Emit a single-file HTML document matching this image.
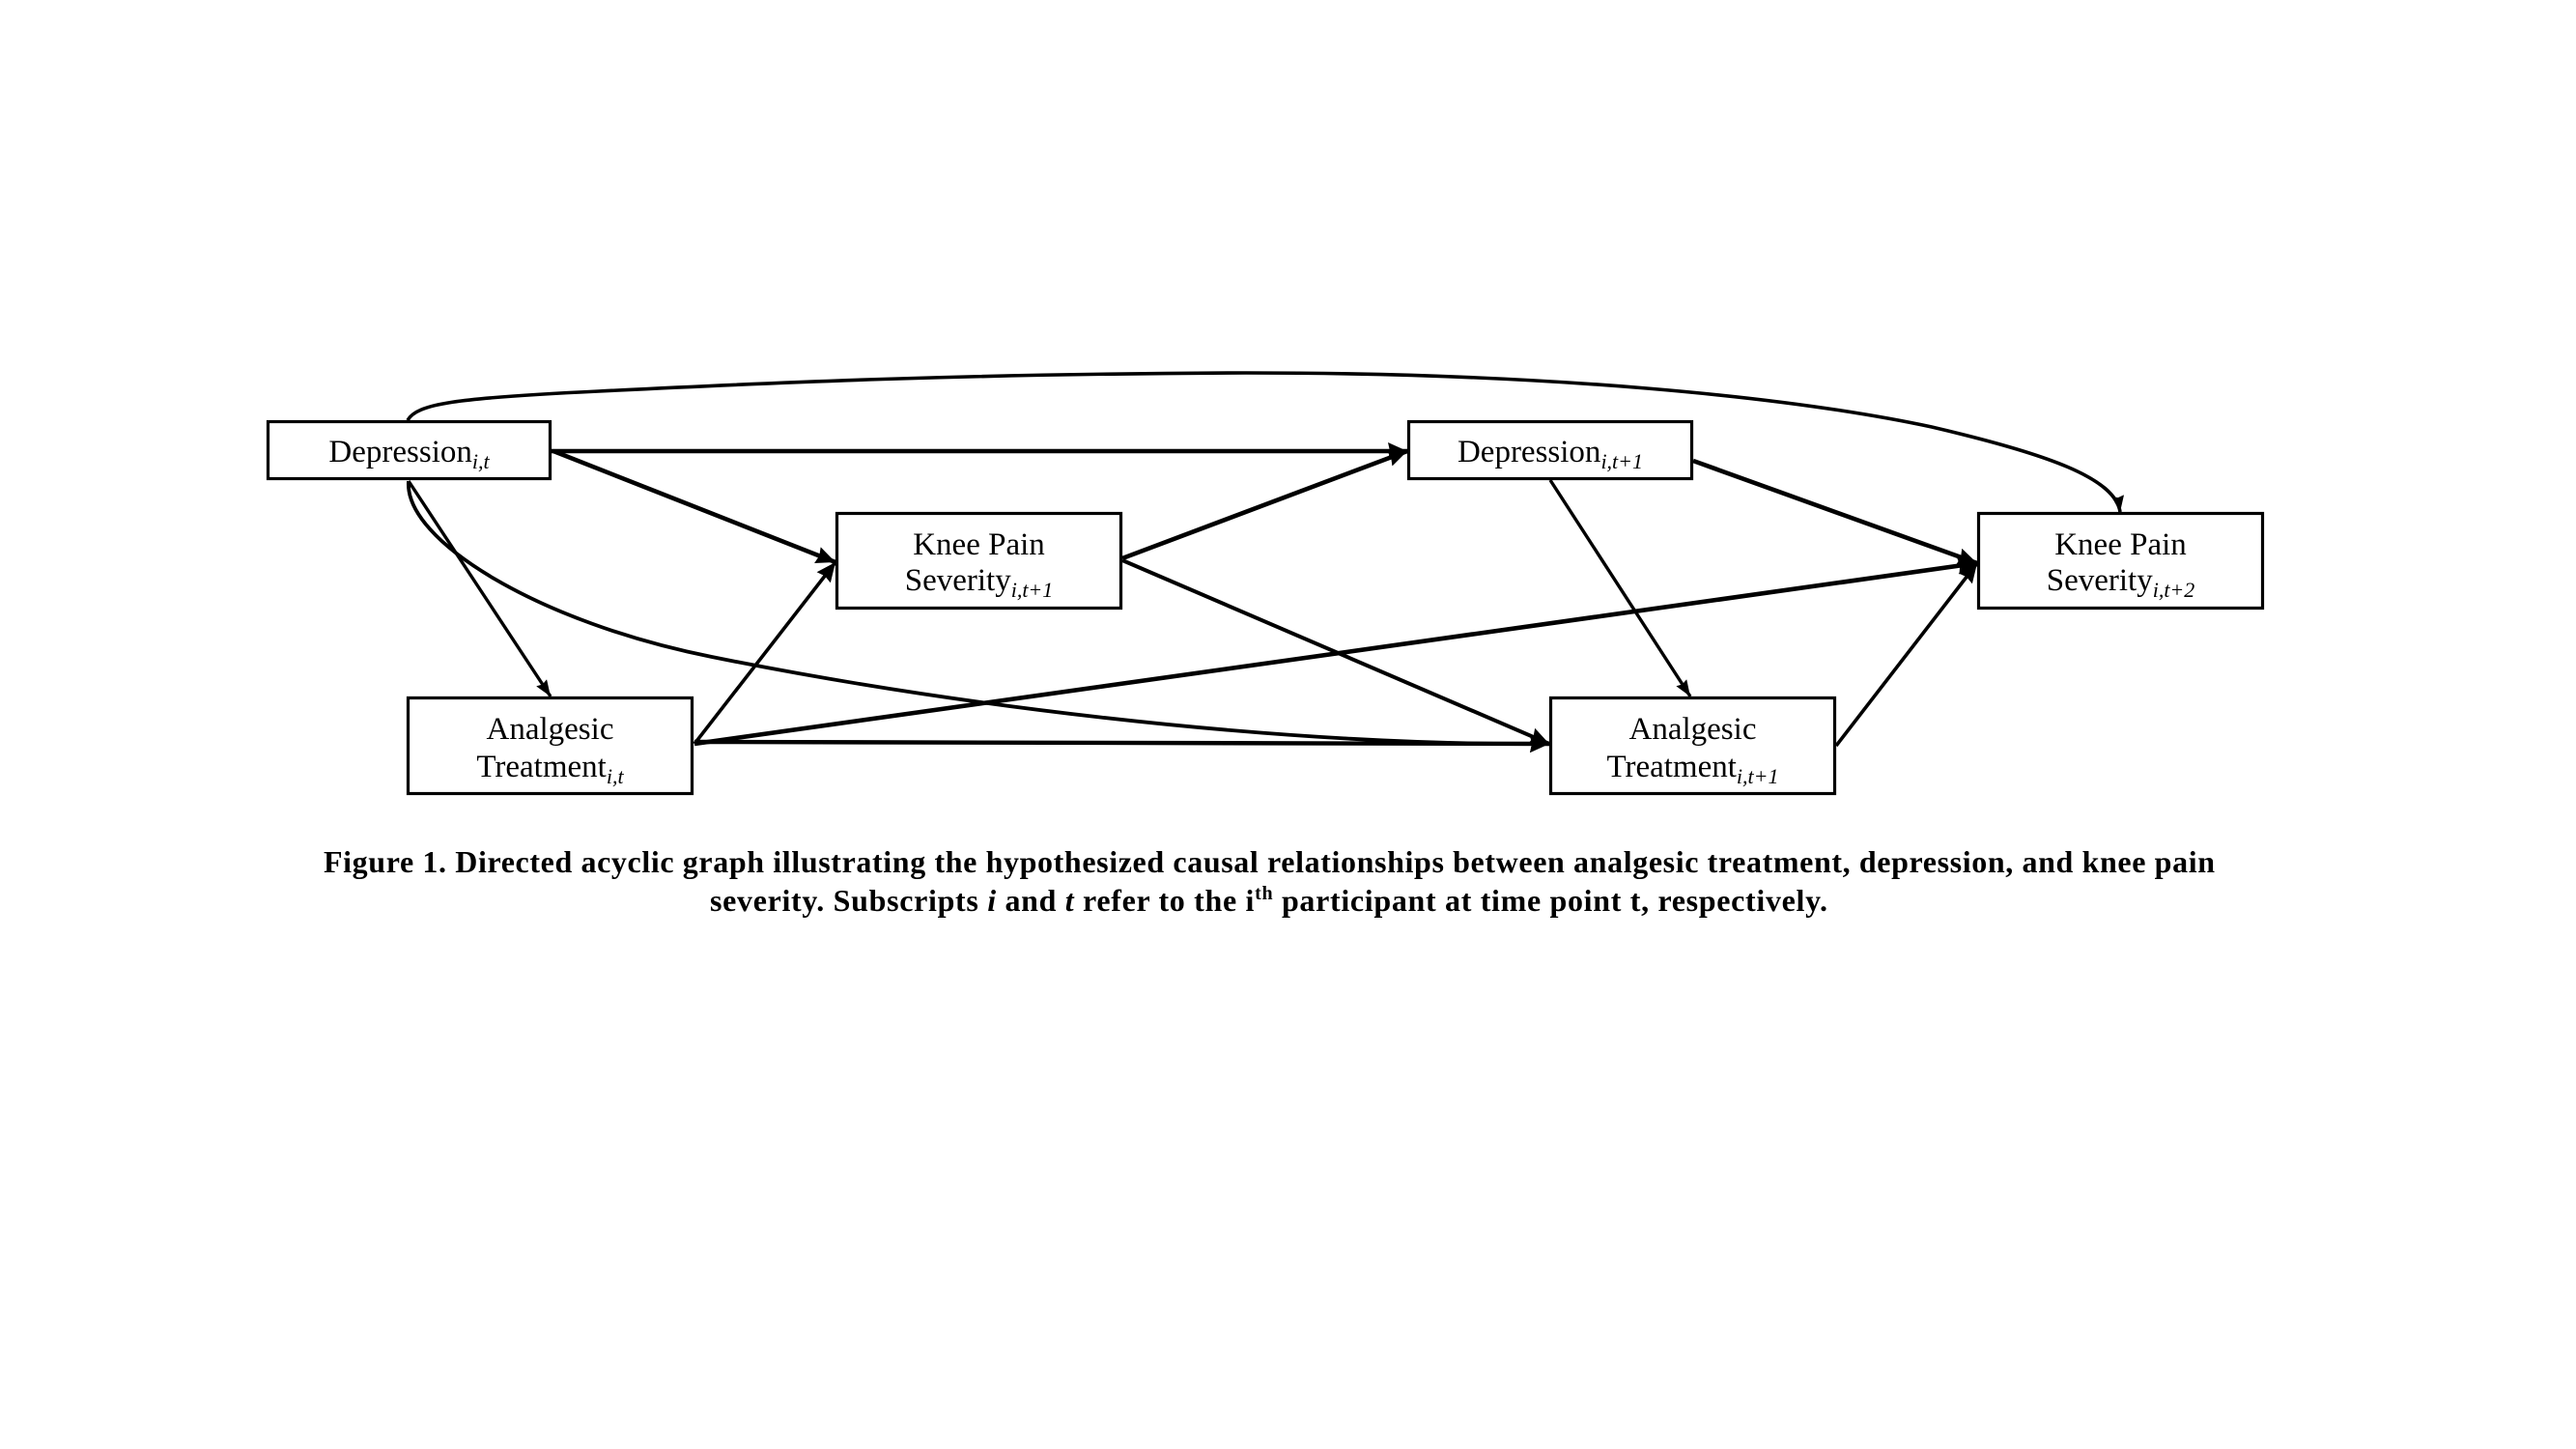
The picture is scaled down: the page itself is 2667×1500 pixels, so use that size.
<!DOCTYPE html>
<html>
<head>
<meta charset="utf-8">
<style>
  html, body { margin: 0; padding: 0; background: #ffffff; }
  body { width: 2667px; height: 1500px; overflow: hidden; }
  svg { display: block; }
  text { font-family: "Liberation Serif", "Times New Roman", serif; fill: #000; }
</style>
</head>
<body>
<svg width="2667" height="1500" viewBox="0 0 2667 1500" xmlns="http://www.w3.org/2000/svg">
  <defs>
    <marker id="big" markerUnits="userSpaceOnUse" viewBox="0 0 20 18" refX="20" refY="9" markerWidth="20" markerHeight="18" orient="auto">
      <path d="M0,0 L20,9 L0,18 L2,9 z" fill="#000"/>
    </marker>
    <marker id="small" markerUnits="userSpaceOnUse" viewBox="0 0 17 13" refX="17" refY="6.5" markerWidth="17" markerHeight="13" orient="auto">
      <path d="M0,0 L17,6.5 L0,13 L2,6.5 z" fill="#000"/>
    </marker>
  </defs>

  <rect x="0" y="0" width="2667" height="1500" fill="#ffffff"/>

  <!-- edges -->
  <g fill="none" stroke="#000" stroke-linecap="butt">
    <!-- Dep_t -> Knee_t+2 (top curve) -->
    <path d="M422,435 C432,418 470,412 620,405 C800,396 1000,387 1290,386 C1600,386 1850,410 2000,442 C2120,470 2190,495 2195,530" stroke-width="3.6" marker-end="url(#small)"/>
    <!-- Dep_t -> Dep_t+1 -->
    <path d="M571,467 L1457,467" stroke-width="4.4" marker-end="url(#big)"/>
    <!-- Dep_t -> Knee_t+1 -->
    <path d="M573,467 L865,582" stroke-width="4.6" marker-end="url(#big)"/>
    <!-- Dep_t -> Analgesic_t -->
    <path d="M423,498 L570,721" stroke-width="3.4" marker-end="url(#small)"/>
    <!-- Dep_t -> Analgesic_t+1 (lower curve) -->
    <path d="M423,498 C418,560 560,645 737,680 C960,725 1300,772 1604,770" stroke-width="3.8" marker-end="url(#big)"/>
    <!-- Analgesic_t -> Knee_t+1 -->
    <path d="M719,770 L865,582" stroke-width="3.6" marker-end="url(#big)"/>
    <!-- Analgesic_t -> Knee_t+2 -->
    <path d="M719,770 L2047,583" stroke-width="4.6" marker-end="url(#big)"/>
    <!-- Analgesic_t -> Analgesic_t+1 -->
    <path d="M719,768 L1604,770" stroke-width="4.4" marker-end="url(#big)"/>
    <!-- Knee_t+1 -> Dep_t+1 -->
    <path d="M1162,578 L1457,467" stroke-width="4.6" marker-end="url(#big)"/>
    <!-- Knee_t+1 -> Analgesic_t+1 -->
    <path d="M1162,580 L1604,770" stroke-width="4" marker-end="url(#big)"/>
    <!-- Dep_t+1 -> Knee_t+2 -->
    <path d="M1753,477 L2047,583" stroke-width="4.6" marker-end="url(#big)"/>
    <!-- Dep_t+1 -> Analgesic_t+1 -->
    <path d="M1605,497 L1750,721" stroke-width="3.4" marker-end="url(#small)"/>
    <!-- Analgesic_t+1 -> Knee_t+2 -->
    <path d="M1901,772 L2047,583" stroke-width="3.6" marker-end="url(#big)"/>
  </g>

  <!-- nodes -->
  <g fill="#ffffff" stroke="#000" stroke-width="3.2">
    <rect x="277.5" y="436.5" width="292" height="59"/>
    <rect x="866.5" y="531.5" width="294" height="98"/>
    <rect x="422.5" y="722.5" width="294" height="99"/>
    <rect x="1458.5" y="436.5" width="293" height="59"/>
    <rect x="1605.5" y="722.5" width="294" height="99"/>
    <rect x="2048.5" y="531.5" width="294" height="98"/>
  </g>

  <!-- node labels -->
  <g font-size="33" text-anchor="middle">
    <text x="423.5" y="478">Depression<tspan font-style="italic" font-size="22" dy="7">i,t</tspan></text>

    <text x="1013.5" y="574">Knee Pain</text>
    <text x="1013.5" y="611">Severity<tspan font-style="italic" font-size="22" dy="7">i,t+1</tspan></text>

    <text x="569.5" y="765">Analgesic</text>
    <text x="569.5" y="804">Treatment<tspan font-style="italic" font-size="22" dy="7">i,t</tspan></text>

    <text x="1605" y="478">Depression<tspan font-style="italic" font-size="22" dy="7">i,t+1</tspan></text>

    <text x="1752.5" y="765">Analgesic</text>
    <text x="1752.5" y="804">Treatment<tspan font-style="italic" font-size="22" dy="7">i,t+1</tspan></text>

    <text x="2195.5" y="574">Knee Pain</text>
    <text x="2195.5" y="611">Severity<tspan font-style="italic" font-size="22" dy="7">i,t+2</tspan></text>
  </g>

  <!-- caption -->
  <g font-size="32" font-weight="bold">
    <text x="335" y="903" textLength="1958" lengthAdjust="spacing">Figure 1. Directed acyclic graph illustrating the hypothesized causal relationships between analgesic treatment, depression, and knee pain</text>
    <text x="735" y="943" textLength="1157" lengthAdjust="spacing">severity. Subscripts <tspan font-style="italic">i</tspan>  and <tspan font-style="italic">t</tspan> refer to the i<tspan font-size="20" dy="-12">th</tspan><tspan dy="12"> participant at time point t, respectively.</tspan></text>
  </g>
</svg>
</body>
</html>
